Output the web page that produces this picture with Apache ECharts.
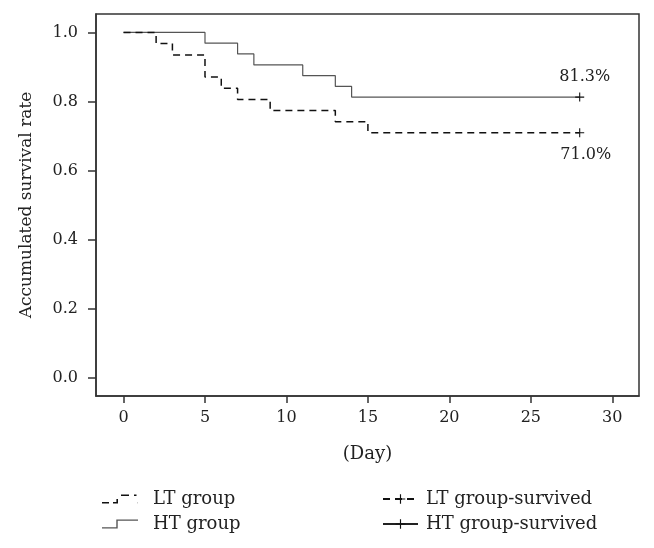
<!DOCTYPE html>
<html>
<head>
<meta charset="utf-8">
<script src="https://cdn.jsdelivr.net/npm/echarts@6/dist/echarts.min.js"></script>
<style>
  html, body { margin: 0; padding: 0; background: #fff; }
  #main { width: 654px; height: 548px; }
</style>
</head>
<body>
<div id="main"></div>
<script>
// survival data
var htDays = [0, 5, 7, 8, 11, 13, 14, 28];
var htRate = [1.000, 0.969, 0.938, 0.906, 0.875, 0.844, 0.813, 0.813];
var ltDays = [0, 2, 3, 5, 6, 7, 9, 13, 15, 28];
var ltRate = [1.000, 0.968, 0.935, 0.871, 0.839, 0.806, 0.774, 0.742, 0.710, 0.710];

// censored (survived) end points
var htSurvived = [[28, 0.813]];
var ltSurvived = [[28, 0.710]];
var htLabel = '81.3%';
var ltLabel = '71.0%';

var xTicks = [0, 5, 10, 15, 20, 25, 30];
var yTicks = [0, 0.2, 0.4, 0.6, 0.8, 1.0];

var FONT = 'DejaVu Serif';
var crossIcon = 'path://M0,4.4h10v1.2h-10z M4.4,0h1.2v10h-1.2z';
// little step icons for the legend, like the original
var ltStepIcon = 'path://M0,7.6h7v1.6h-7z M11,7.6h4v1.6h-4z M14.4,4.5h1.6v4.7h-1.6z M19,0h8v1.6h-8z M32,0h2.5v1.6h-2.5z M35.8,7.6h0.2v1.6h-0.2z';
var htStepIcon = 'path://M0,7.8h15v1.4h-15z M14.3,0h1.4v9.2h-1.4z M14.3,0h21.7v1.4h-21.7z';

function pairs(xs, ys) {
  var out = [];
  for (var i = 0; i < xs.length; i++) out.push([xs[i], ys[i]]);
  return out;
}

var myChart = echarts.init(document.getElementById('main'));

var option = {
  backgroundColor: '#fff',
  animation: false,
  grid: {
    left: 96, right: 15, top: 14, bottom: 152,
    show: true, borderColor: '#333', borderWidth: 1.5,
    containLabel: false, outerBoundsMode: 'none'
  },
  xAxis: {
    type: 'value',
    min: -1.69, max: 31.64,
    name: '(Day)',
    nameLocation: 'middle',
    nameGap: 49,
    nameTextStyle: { fontFamily: FONT, fontSize: 18, color: '#222' },
    axisLine: { show: true, onZero: false, lineStyle: { color: '#333', width: 1.5 } },
    axisTick: { show: true, length: 7, customValues: xTicks, lineStyle: { color: '#333', width: 1.5 } },
    axisLabel: {
      customValues: xTicks, margin: 14,
      fontFamily: FONT, fontSize: 16, color: '#222'
    },
    splitLine: { show: false }
  },
  yAxis: {
    type: 'value',
    min: -0.0514, max: 1.0534,
    name: 'Accumulated survival rate',
    nameLocation: 'middle',
    nameGap: 61,
    nameTextStyle: { fontFamily: FONT, fontSize: 17, color: '#222' },
    axisLine: { show: true, onZero: false, lineStyle: { color: '#333', width: 1.5 } },
    axisTick: { show: true, length: 8, customValues: yTicks, lineStyle: { color: '#333', width: 1.5 } },
    axisLabel: {
      customValues: yTicks, margin: 18,
      fontFamily: FONT, fontSize: 16, color: '#222',
      formatter: function (v) { return v.toFixed(1); }
    },
    splitLine: { show: false }
  },
  legend: [
    {
      orient: 'vertical', left: 97, top: 484, itemGap: 5,
      itemWidth: 36, itemHeight: 9.2,
      textStyle: { fontFamily: FONT, fontSize: 18, lineHeight: 20, color: '#222', padding: [0, 0, 0, 10] },
      data: [
        { name: 'LT group', icon: ltStepIcon },
        { name: 'HT group', icon: htStepIcon }
      ]
    },
    {
      orient: 'vertical', left: 377, top: 484, itemGap: 5,
      itemWidth: 35, itemHeight: 12,
      textStyle: { fontFamily: FONT, fontSize: 18, lineHeight: 20, color: '#222', padding: [0, 0, 0, 3] },
      data: ['LT group-survived', 'HT group-survived']
    }
  ],
  series: [
    {
      name: 'HT group',
      type: 'line',
      step: 'end',
      symbol: 'none',
      data: pairs(htDays, htRate),
      lineStyle: { color: '#555', width: 1.2, type: 'solid' },
      itemStyle: { color: '#555' },
      z: 2
    },
    {
      name: 'LT group',
      type: 'line',
      step: 'end',
      symbol: 'none',
      data: pairs(ltDays, ltRate),
      lineStyle: { color: '#111', width: 1.5, type: [7, 5] },
      itemStyle: { color: '#111' },
      z: 3
    },
    {
      name: 'HT group-survived',
      type: 'line',
      symbol: crossIcon,
      symbolSize: 9,
      data: htSurvived,
      lineStyle: { color: '#222', width: 1.2, type: 'solid' },
      itemStyle: { color: '#111' },
      label: {
        show: true, position: 'top', distance: 8, offset: [5, 0],
        formatter: htLabel,
        fontFamily: FONT, fontSize: 16, color: '#222'
      },
      z: 4
    },
    {
      name: 'LT group-survived',
      type: 'line',
      symbol: crossIcon,
      symbolSize: 9,
      data: ltSurvived,
      lineStyle: { color: '#111', width: 1.5, type: [7, 5] },
      itemStyle: { color: '#111' },
      label: {
        show: true, position: 'bottom', distance: 10, offset: [6, 0],
        formatter: ltLabel,
        fontFamily: FONT, fontSize: 16, color: '#222'
      },
      z: 4
    }
  ]
};

myChart.setOption(option);
</script>
</body>
</html>
